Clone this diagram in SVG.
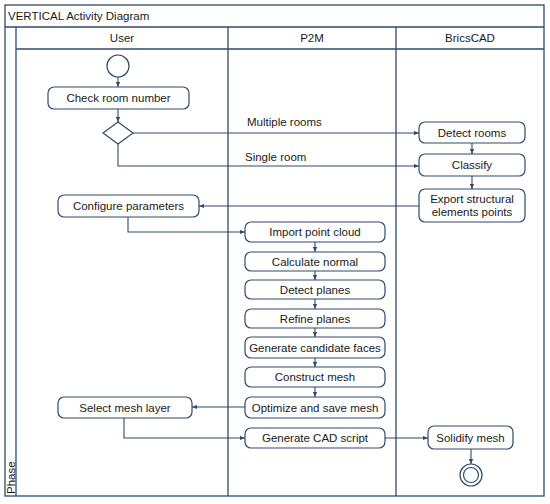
<svg xmlns="http://www.w3.org/2000/svg" width="550" height="504" viewBox="0 0 550 504">
<style>
.frame{fill:none;stroke:#2f4b6b;stroke-width:1.3}
.box{fill:#fff;stroke:#2f4b6b;stroke-width:1.2}
.ln{fill:none;stroke:#2f4b6b;stroke-width:1.1;marker-end:url(#ah)}
text{font-family:"Liberation Sans",Arial,sans-serif;font-size:11.5px;fill:#1a1a1a}
.c{text-anchor:middle}
</style>
<defs>
<marker id="ah" viewBox="0 0 6 6" refX="6" refY="3" markerWidth="5" markerHeight="5" markerUnits="userSpaceOnUse" orient="auto">
<path d="M0,0.5 L6,3 L0,5.5 z" fill="#2f4b6b"/>
</marker>
</defs>
<rect width="550" height="504" fill="#fff"/>
<g id="frame">
<rect class="frame" x="5" y="5" width="539" height="491"/>
<line class="frame" x1="5" y1="27" x2="544" y2="27"/>
<line class="frame" x1="16" y1="27" x2="16" y2="496"/>
<line class="frame" x1="16" y1="49" x2="544" y2="49"/>
<line class="frame" x1="228" y1="27" x2="228" y2="496"/>
<line class="frame" x1="396" y1="27" x2="396" y2="496"/>
<text x="8" y="20">VERTICAL Activity Diagram</text>
<text class="c" x="122" y="42">User</text>
<text class="c" x="312" y="42">P2M</text>
<text class="c" x="470" y="42">BricsCAD</text>
<text transform="translate(15,494) rotate(-90)">Phase</text>
</g>
<g id="connectors">
<line class="ln" x1="118" y1="77" x2="118" y2="87"/>
<line class="ln" x1="118" y1="109" x2="118" y2="122"/>
<line class="ln" x1="133" y1="133" x2="419" y2="133"/>
<polyline class="ln" points="118,144 118,166 419,166"/>
<line class="ln" x1="472" y1="143" x2="472" y2="154"/>
<line class="ln" x1="472" y1="176" x2="472" y2="189"/>
<line class="ln" x1="419" y1="206" x2="199" y2="206"/>
<polyline class="ln" points="128,217 128,232 245,232"/>
<line class="ln" x1="315" y1="242" x2="315" y2="252"/>
<line class="ln" x1="315" y1="271" x2="315" y2="280"/>
<line class="ln" x1="315" y1="299" x2="315" y2="309"/>
<line class="ln" x1="315" y1="328" x2="315" y2="337"/>
<line class="ln" x1="315" y1="358" x2="315" y2="367"/>
<line class="ln" x1="315" y1="387" x2="315" y2="397"/>
<line class="ln" x1="245" y1="407" x2="192" y2="407"/>
<polyline class="ln" points="124,418 124,438 245,438"/>
<line class="ln" x1="385" y1="438" x2="428" y2="438"/>
<line class="ln" x1="471" y1="449" x2="471" y2="464"/>
<text x="247" y="126">Multiple rooms</text>
<text x="245" y="161">Single room</text>
</g>
<g id="start"><circle cx="118" cy="66" r="11" fill="#fff" stroke="#2f4b6b" stroke-width="1.2"/></g>
<g id="check"><rect class="box" x="48" y="87" width="141" height="22" rx="6"/><text class="c" x="118.5" y="102">Check room number</text></g>
<g id="decision"><polygon class="box" points="118,122 133,133 118,144 103,133"/></g>
<g id="detect-rooms"><rect class="box" x="419" y="122" width="106" height="21" rx="6"/><text class="c" x="472" y="136.5">Detect rooms</text></g>
<g id="classify"><rect class="box" x="419" y="154" width="106" height="22" rx="6"/><text class="c" x="472" y="169">Classify</text></g>
<g id="export"><rect class="box" x="419" y="189" width="106" height="33" rx="6"/><text class="c" x="472" y="203">Export structural</text><text class="c" x="472" y="216">elements points</text></g>
<g id="configure"><rect class="box" x="58" y="195" width="141" height="22" rx="6"/><text class="c" x="128.5" y="210">Configure parameters</text></g>
<g id="import"><rect class="box" x="245" y="222" width="140" height="20" rx="6"/><text class="c" x="315" y="236">Import point cloud</text></g>
<g id="normal"><rect class="box" x="245" y="252" width="140" height="19" rx="6"/><text class="c" x="315" y="265.5">Calculate normal</text></g>
<g id="detect-planes"><rect class="box" x="245" y="280" width="140" height="19" rx="6"/><text class="c" x="315" y="293.5">Detect planes</text></g>
<g id="refine"><rect class="box" x="245" y="309" width="140" height="19" rx="6"/><text class="c" x="315" y="322.5">Refine planes</text></g>
<g id="candidate"><rect class="box" x="245" y="337" width="140" height="21" rx="6"/><text class="c" x="315" y="351.5">Generate candidate faces</text></g>
<g id="construct"><rect class="box" x="245" y="367" width="140" height="20" rx="6"/><text class="c" x="315" y="381">Construct mesh</text></g>
<g id="optimize"><rect class="box" x="245" y="397" width="140" height="21" rx="6"/><text class="c" x="315" y="411.5">Optimize and save mesh</text></g>
<g id="select"><rect class="box" x="58" y="397" width="134" height="21" rx="6"/><text class="c" x="125" y="411.5">Select mesh layer</text></g>
<g id="cad"><rect class="box" x="245" y="428" width="140" height="20" rx="6"/><text class="c" x="315" y="442">Generate CAD script</text></g>
<g id="solidify"><rect class="box" x="428" y="426" width="85" height="23" rx="6"/><text class="c" x="470.5" y="441.5">Solidify mesh</text></g>
<g id="end"><circle cx="471" cy="475" r="11" fill="#fff" stroke="#2f4b6b" stroke-width="1.2"/><circle cx="471" cy="475" r="7.5" fill="none" stroke="#2f4b6b" stroke-width="1.2"/></g>
</svg>
